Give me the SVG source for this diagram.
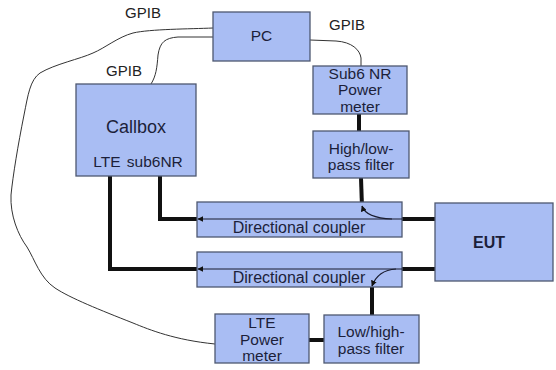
<svg xmlns="http://www.w3.org/2000/svg" width="556" height="370" viewBox="0 0 556 370">
<defs>
<style>
.box{fill:#a9bdf3;stroke:#4e5870;stroke-width:1.3}
.t{font-family:"Liberation Sans",Arial,sans-serif;fill:#1c1f3a;text-anchor:middle;font-size:15.5px}
.big{font-size:18px}
.dc{font-size:16px}
.eut{font-size:16px;font-weight:bold}
.g{font-family:"Liberation Sans",Arial,sans-serif;fill:#222;font-size:15px;text-anchor:middle}
.thick{fill:none;stroke:#111;stroke-width:4}
.thin{fill:none;stroke:#1a1d30;stroke-width:1.2}
.cable{fill:none;stroke:#333;stroke-width:1}
</style>
<marker id="ah" viewBox="0 0 10 10" refX="9" refY="5" markerWidth="6" markerHeight="6" orient="auto" markerUnits="userSpaceOnUse">
<path d="M0,0 L10,5 L0,10 z" fill="#111"/>
</marker>
</defs>
<g id="connectors">
<path class="cable" d="M213,28 C190,29 150,29 133,33 C118,37 105,48 93,53 C80,59 55,64 40,73 C30,80 28,95 24,115 C18,145 13,175 11,195 C10,215 18,235 27,247 C35,260 40,278 55,288 C70,298 100,310 133,323 C150,330 175,340 215,344"/>
<path class="cable" d="M213,37 L178,37 C165,38 160,42 158,55 C157,68 156,76 151,84"/>
<path class="cable" d="M310,40 L336,41 C352,42 360,50 361,58 L361,66"/>
<path class="thick" d="M359,114 L359,131"/>
<path class="thick" d="M361,178 L362,207"/>
<path class="thick" d="M160,176 L160,219 L197,219"/>
<path class="thick" d="M110,176 L110,269 L197,269"/>
<path class="thick" d="M402,219 L435,219"/>
<path class="thick" d="M402,269 L435,269"/>
<path class="thick" d="M372,315 L372,285"/>
<path class="thick" d="M309,340 L324,340"/>
</g>
<g id="pc"><rect class="box" x="213" y="12" width="97" height="49"/><text class="t" x="261.5" y="41">PC</text></g>
<g id="callbox"><rect class="box" x="76" y="84" width="120" height="92"/><text class="t big" x="136" y="133">Callbox</text><text class="t" x="138" y="167" style="word-spacing:2px">LTE  sub6NR</text></g>
<g id="sub6pm"><rect class="box" x="313" y="66" width="94" height="48"/><text class="t" x="360" y="79">Sub6 NR</text><text class="t" x="360" y="95">Power</text><text class="t" x="360" y="112">meter</text></g>
<g id="hpf"><rect class="box" x="313" y="131" width="96" height="47"/><text class="t" x="361" y="154">High/low-</text><text class="t" x="361" y="170">pass filter</text></g>
<g id="coupler1"><rect class="box" x="197" y="202" width="205" height="35"/><path class="thin" d="M402,219 L198,219" marker-end="url(#ah)"/><path class="thin" d="M392,219 Q366,218 362,206" marker-end="url(#ah)"/><text class="t dc" x="299" y="233">Directional coupler</text></g>
<g id="coupler2"><rect class="box" x="197" y="252" width="205" height="35"/><path class="thin" d="M402,269 L198,269" marker-end="url(#ah)"/><path class="thin" d="M396,269 Q378,270 372,286" marker-end="url(#ah)"/><text class="t dc" x="299" y="283">Directional coupler</text></g>
<g id="eut"><rect class="box" x="435" y="203" width="118" height="78"/><text class="t eut" x="489" y="248">EUT</text></g>
<g id="ltepm"><rect class="box" x="215" y="314" width="94" height="49"/><text class="t" x="262" y="328">LTE</text><text class="t" x="262" y="345">Power</text><text class="t" x="262" y="361">meter</text></g>
<g id="lpf"><rect class="box" x="324" y="315" width="95" height="48"/><text class="t" x="371" y="337">Low/high-</text><text class="t" x="371" y="354">pass filter</text></g>
<g id="labels"><text class="g" x="143" y="18">GPIB</text><text class="g" x="124" y="76">GPIB</text><text class="g" x="347" y="30">GPIB</text></g>
</svg>
